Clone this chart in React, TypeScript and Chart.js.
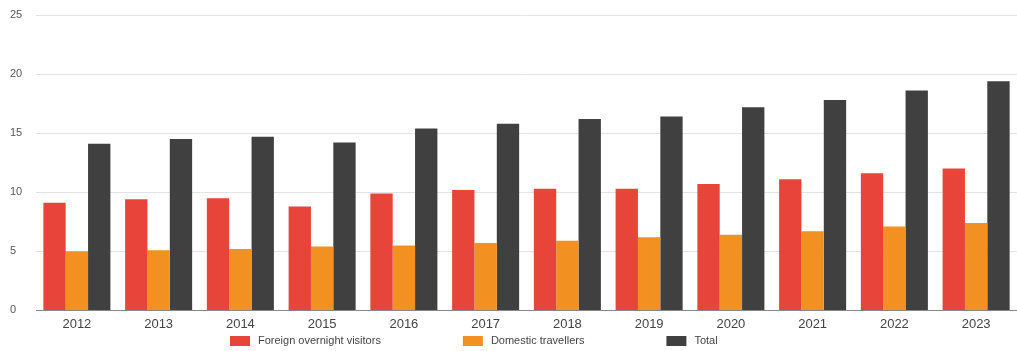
import React, { useEffect, useRef } from "react";
import { Chart, registerables } from "chart.js";

Chart.register(...registerables);

const years = ["2012", "2013", "2014", "2015", "2016", "2017", "2018", "2019", "2020", "2021", "2022", "2023"];
const foreignVisitors = [9.1, 9.4, 9.5, 8.8, 9.9, 10.2, 10.3, 10.3, 10.7, 11.1, 11.6, 12.0];
const domesticTravellers = [5.0, 5.1, 5.2, 5.4, 5.5, 5.7, 5.9, 6.2, 6.4, 6.7, 7.1, 7.4];
const totals = [14.1, 14.5, 14.7, 14.2, 15.4, 15.8, 16.2, 16.4, 17.2, 17.8, 18.6, 19.4];
const seriesNames = ["Foreign overnight visitors", "Domestic travellers", "Total"];
const seriesColors = ["#e8453a", "#f29122", "#404040"];

const FONT = "'Liberation Sans', Arial, sans-serif";

// Legend drawn on the canvas from the chart's own datasets, with wide item gaps
const spacedLegend = {
  id: "spacedLegend",
  afterDraw(chart: any) {
    const ctx = chart.ctx;
    const startX = 230;
    const gap = 82;
    const boxW = 20;
    const boxH = 10;
    const cy = 341;
    ctx.save();
    ctx.font = `11px ${FONT}`;
    ctx.textBaseline = "middle";
    ctx.textAlign = "left";
    let x = startX;
    chart.data.datasets.forEach((ds: any) => {
      ctx.fillStyle = ds.backgroundColor;
      ctx.fillRect(x, cy - boxH / 2, boxW, boxH);
      const tx = x + boxW + 8;
      ctx.fillStyle = "#444";
      ctx.fillText(ds.label, tx, cy);
      x = tx + ctx.measureText(ds.label).width + gap;
    });
    ctx.restore();
  },
};

export default function App() {
  const canvasRef = useRef<HTMLCanvasElement | null>(null);

  useEffect(() => {
    document.body.style.margin = "0";
    const ctx = canvasRef.current;
    if (!ctx) return;
    const chart = new Chart(ctx, {
      type: "bar",
      data: {
        labels: years,
        datasets: [foreignVisitors, domesticTravellers, totals].map((d, i) => ({
          label: seriesNames[i],
          data: d,
          backgroundColor: seriesColors[i],
          borderWidth: 0,
          categoryPercentage: 0.82,
          barPercentage: 1.0,
        })),
      },
      options: {
        animation: false,
        responsive: false,
        maintainAspectRatio: false,
        layout: { padding: { left: 10, right: 0, top: 15, bottom: 13 } },
        plugins: {
          legend: { display: false },
          tooltip: { enabled: false },
        },
        scales: {
          x: {
            grid: { display: false, drawTicks: false },
            border: { display: true, color: "#888", width: 1 },
            ticks: { color: "#444", font: { family: FONT, size: 13 }, padding: 6 },
          },
          y: {
            min: 0,
            max: 25,
            ticks: {
              stepSize: 5,
              color: "#555",
              crossAlign: "far",
              font: { family: FONT, size: 11 },
            },
            grid: { color: "#e3e3e3", drawTicks: false },
            border: { display: false },
            afterFit: (scale: any) => {
              scale.width = 26;
            },
          },
        },
      },
      plugins: [spacedLegend],
    });
    return () => chart.destroy();
  }, []);

  return (
    <div style={{ width: 1017, height: 351 }}>
      <canvas ref={canvasRef} width={1017} height={351} style={{ display: "block" }} />
    </div>
  );
}
